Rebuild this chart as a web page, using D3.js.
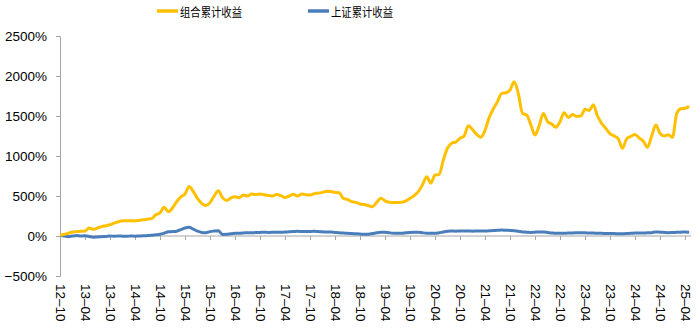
<!DOCTYPE html>
<html>
<head>
<meta charset="utf-8">
<script src="https://cdn.jsdelivr.net/npm/d3@7"></script>
<style>
  html, body { margin: 0; padding: 0; background: #fff; }
  svg { display: block; font-family: "Liberation Sans", Arial, sans-serif; }
</style>
</head>
<body>
<svg id="chart" width="700" height="336"></svg>
<script>
// ---- Data ----
const startMonth = new Date(2012, 9, 1);   // 2012-10
const endMonth = new Date(2025, 5, 1);     // exclusive -> last 2025-05
const months = d3.timeMonth.range(startMonth, endMonth);

const seriesNames = ["组合累计收益", "上证累计收益"];
const seriesColors = ["#FFC000", "#4A7EBB"];

// 组合累计收益 (%), monthly
const portfolio = [
  10, 20, 35, 50, 55, 58, 62, 100, 83, 100,
  117, 128, 140, 160, 178, 190, 192, 190, 188, 195,
  204, 210, 217, 265, 290, 360, 304, 350, 430, 490,
  525, 620, 554, 470, 408, 380, 417, 500, 567, 480,
  445, 475, 490, 478, 512, 500, 525, 520, 525, 515,
  505, 500, 518, 505, 480, 500, 521, 500, 525, 515,
  512, 530, 535, 545, 558, 555, 546, 540, 470, 458,
  430, 421, 400, 393, 380, 367, 420, 471, 440, 421,
  420, 420, 421, 440, 471, 505, 554, 640, 742, 660,
  762, 770, 950, 1100, 1160, 1175, 1221, 1250, 1379, 1330,
  1270, 1235, 1320, 1480, 1590, 1680, 1783, 1790, 1825, 1929,
  1780, 1533, 1512, 1390, 1262, 1380, 1530, 1430, 1400, 1360,
  1429, 1542, 1480, 1520, 1495, 1500, 1583, 1570, 1640, 1500,
  1408, 1345, 1280, 1250, 1215, 1096, 1215, 1245, 1270, 1225,
  1185, 1108, 1250, 1387, 1283, 1250, 1265, 1233, 1530, 1590,
  1596, 1620
];

// 上证累计收益 (%), monthly
const sse = [
  5, 0, -8, 0, 5, 0, 2, -5, -15, -12,
  -8, -5, 0, -3, 0, -2, -3, 0, -2, 0,
  2, 5, 8, 15, 21, 35, 52, 55, 60, 80,
  100, 108, 85, 60, 45, 42, 55, 62, 67, 20,
  22, 28, 33, 35, 38, 42, 40, 44, 45, 46,
  45, 46, 48, 46, 50, 52, 55, 58, 56, 55,
  57, 58, 55, 52, 50, 50, 45, 40, 37, 33,
  30, 27, 24, 21, 22, 30, 40, 46, 46, 40,
  35, 33, 33, 40, 45, 46, 46, 40, 35, 33,
  33, 40, 50, 58, 62, 60, 62, 62, 62, 60,
  62, 62, 62, 65, 68, 72, 75, 72, 70, 67,
  60, 50, 48, 45, 48, 50, 50, 45, 38, 33,
  33, 35, 37, 38, 40, 42, 40, 38, 36, 35,
  33, 32, 30, 30, 28, 29, 30, 33, 37, 36,
  38, 40, 42, 50, 48, 45, 42, 44, 46, 48,
  50, 48
];

const yTicks = [-500, 0, 500, 1000, 1500, 2000, 2500];
const xTickLabels = ["12-10","13-04","13-10","14-04","14-10","15-04","15-10","16-04","16-10",
  "17-04","17-10","18-04","18-10","19-04","19-10","20-04","20-10","21-04","21-10",
  "22-04","22-10","23-04","23-10","24-04","24-10","25-04"];

// ---- Chart ----
const svg = d3.select("#chart");
const fmtMonth = d3.timeFormat("%y-%m");
const cats = months.map(fmtMonth);

const x = d3.scalePoint().domain(cats).range([60, 60 + (cats.length - 1) * 25 / 6]);
const y = d3.scaleLinear().domain([-500, 2500]).range([276, 36]);

const axisColor = "#A6A6A6";

// Y axis
const yAxis = svg.append("g")
  .attr("transform", "translate(60,0)")
  .call(d3.axisLeft(y).tickValues(yTicks).tickSize(4).tickPadding(9)
    .tickFormat(d => (d < 0 ? "\u2212" + Math.abs(d) : d) + "%"));
yAxis.select(".domain").attr("stroke", axisColor);
yAxis.selectAll(".tick line").attr("stroke", axisColor);
yAxis.selectAll(".tick text").attr("font-size", 13.5).attr("fill", "#000")
  .attr("font-family", "'Liberation Sans', Arial, sans-serif");

// X axis at 0
const xAxis = svg.append("g")
  .attr("transform", `translate(0,${y(0)})`)
  .call(d3.axisBottom(x).tickValues(xTickLabels).tickSize(4).tickSizeOuter(0).tickFormat(""));
xAxis.select(".domain").attr("stroke", axisColor)
  .attr("d", `M60,0H${x(cats[cats.length - 1]) + 2}`);
xAxis.selectAll(".tick line").attr("stroke", axisColor);

// X labels at bottom (low position), rotated
svg.append("g").selectAll("text")
  .data(xTickLabels)
  .join("text")
  .attr("transform", d => `translate(${x(d)},284) rotate(90)`)
  .attr("text-anchor", "start")
  .attr("dominant-baseline", "central")
  .attr("font-size", 13.5)
  .attr("fill", "#000")
  .text(d => d.replace("-", "\u2013"));

// Lines
const line = d3.line()
  .x((d, i) => x(cats[i]))
  .y(d => y(d))
  .curve(d3.curveMonotoneX);

svg.append("path").datum(sse)
  .attr("fill", "none").attr("stroke", seriesColors[1]).attr("stroke-width", 3)
  .attr("stroke-linejoin", "round").attr("d", line);
svg.append("path").datum(portfolio)
  .attr("fill", "none").attr("stroke", seriesColors[0]).attr("stroke-width", 3)
  .attr("stroke-linejoin", "round").attr("d", line);

// Legend
const legendX = [157, 308];
const legend = svg.append("g");
seriesNames.forEach((name, k) => {
  legend.append("line")
    .attr("x1", legendX[k]).attr("x2", legendX[k] + 21)
    .attr("y1", 11).attr("y2", 11)
    .attr("stroke", seriesColors[k]).attr("stroke-width", 3.5);
  legend.append("text")
    .attr("x", legendX[k] + 23).attr("y", 11)
    .attr("dominant-baseline", "central")
    .attr("font-family", "'Noto Sans CJK SC', sans-serif")
    .attr("font-size", 12)
    .attr("textLength", 62).attr("lengthAdjust", "spacingAndGlyphs")
    .attr("fill", "#000")
    .text(name);
});
</script>
</body>
</html>
